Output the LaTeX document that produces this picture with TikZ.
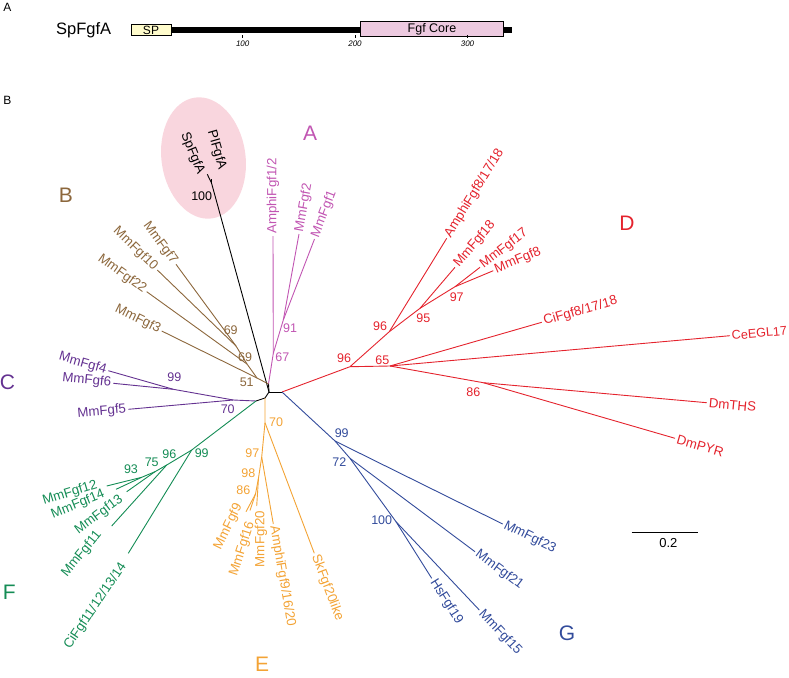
\documentclass[tikz,border=0pt]{standalone}
\usepackage{fontspec}
\setmainfont{Liberation Sans}
\usetikzlibrary{shapes.geometric}
\definecolor{cA}{RGB}{193,85,178}
\definecolor{cB}{RGB}{140,103,60}
\definecolor{cC}{RGB}{100,50,145}
\definecolor{cD}{RGB}{228,35,45}
\definecolor{cE}{RGB}{243,163,53}
\definecolor{cF}{RGB}{20,140,85}
\definecolor{cG}{RGB}{50,75,155}
\definecolor{ellpink}{RGB}{249,214,222}
\definecolor{spyellow}{RGB}{255,252,204}
\definecolor{corepink}{RGB}{237,202,224}
\begin{document}
\begin{tikzpicture}[x=1pt,y=-1pt,
  br/.style={line width=0.9pt},
  lbl/.style={font=\fontsize{13.3}{16}\selectfont, inner sep=1.8pt},
  rlbl/.style={lbl,pos=1,sloped,anchor=west,allow upside down},
  llbl/.style={lbl,pos=0,sloped,anchor=east,allow upside down},
  flbl/.style={font=\fontsize{13.3}{16}\selectfont, inner sep=0pt},
  bs/.style={font=\fontsize{12.5}{15}\selectfont, inner sep=0pt},
  clade/.style={font=\fontsize{21}{24}\selectfont, inner sep=0pt},
  panel/.style={font=\fontsize{12}{14}\selectfont, inner sep=0pt}]
\useasboundingbox (0,0) rectangle (789,677);
% ---------------- panel A
\node[panel] (pA) at (7.5,7) {A};
\node[font=\fontsize{16.5}{19}\selectfont, inner sep=0pt] (spname) at (83.7,30) {SpFgfA};
\coordinate (barL) at (171,30);
\coordinate (barR) at (511.7,30);
\draw[line width=6.3pt] (barL) -- (barR);
\node[draw, line width=0.5pt, fill=spyellow, minimum width=40pt, minimum height=11.7pt, inner sep=0pt, font=\fontsize{12}{13}\selectfont] (spbox) at (151,29.9) {SP};
\node[draw, line width=0.5pt, fill=corepink, minimum width=142.6pt, minimum height=14.3pt, inner sep=0pt, font=\fontsize{12.5}{13}\selectfont] (core) at (432,28.9) {Fgf Core};
\foreach \x/\t in {242.7/100, 355/200, 467.5/300} {
  \coordinate (tk\t a) at (\x,35.3);
  \coordinate (tk\t b) at (\x,37.8);
  \draw[line width=0.6pt] (tk\t a) -- (tk\t b);
  \node[font=\fontsize{8}{9}\selectfont\itshape, inner sep=0pt] (tn\t) at (\x,43.5) {\t};
}
% ---------------- panel B
\node[panel] (pB) at (7.5,100) {B};
\node[ellipse, fill=ellpink, minimum width=84pt, minimum height=122pt, rotate=8, inner sep=0pt] (ell) at (203.5,158) {};
% coordinates
\coordinate (C0) at (269,392);
\coordinate (CR) at (282,392);
\coordinate (C1) at (265,398);
\coordinate (C2) at (256,401);
\coordinate (Cb) at (268.5,384);
\coordinate (n100) at (211.5,183);
\coordinate (tSp) at (207.3,174.3);
\coordinate (tPl) at (211.5,178.5);
\coordinate (p67) at (273.3,353.3);
\coordinate (p91) at (283.3,320);
\coordinate (tA12) at (273,236);
\coordinate (tMm2) at (299,234);
\coordinate (tMm1) at (314.5,239);
\coordinate (b51) at (257,378);
\coordinate (b69b) at (247,364);
\coordinate (b69a) at (236,346);
\coordinate (tMm7) at (176,264.3);
\coordinate (tMm10) at (157.3,270);
\coordinate (tMm22) at (146.7,291.7);
\coordinate (tMm3) at (161.7,331);
\coordinate (c70) at (233.3,400);
\coordinate (c99) at (173.3,389.3);
\coordinate (tMm4) at (108.3,370.7);
\coordinate (tMm6) at (113.3,383.3);
\coordinate (tMm5) at (128.3,409.3);
\coordinate (d96) at (350,366.7);
\coordinate (d65) at (390,366);
\coordinate (d86) at (483.3,382.7);
\coordinate (d96b) at (389.3,331.7);
\coordinate (d95) at (420,308.3);
\coordinate (d97) at (455,286.7);
\coordinate (tAm8) at (446.7,238.3);
\coordinate (tMm18) at (455,267.3);
\coordinate (tMm17) at (480,267.3);
\coordinate (tMm8) at (493.3,270.7);
\coordinate (tCi8) at (541.7,322.3);
\coordinate (tCe) at (730,335.7);
\coordinate (tTHS) at (706.7,402.7);
\coordinate (tPYR) at (675,438.3);
\coordinate (e70) at (265,422.7);
\coordinate (e97) at (261.7,457);
\coordinate (e98) at (258.5,478);
\coordinate (e86) at (255.5,494);
\coordinate (tSk) at (314.3,553.3);
\coordinate (tAm9) at (273.3,524);
\coordinate (tMm20) at (256.7,506);
\coordinate (tMm9) at (246,511.7);
\coordinate (tMm16) at (250,510.5);
\coordinate (f99) at (191.7,450);
\coordinate (f96) at (166.7,465);
\coordinate (f75) at (155,471.7);
\coordinate (f93) at (141.7,477.3);
\coordinate (tCi11) at (128.3,553.3);
\coordinate (tMm11) at (111.7,526);
\coordinate (tMm13) at (126.7,491.7);
\coordinate (tMm12) at (106.7,486);
\coordinate (tMm14) at (116,489.3);
\coordinate (g99) at (335,441);
\coordinate (g72) at (350,458.3);
\coordinate (g100) at (396,521.7);
\coordinate (tMm23) at (502.7,524);
\coordinate (tMm21) at (475,551.7);
\coordinate (tHs19) at (431.7,578.3);
\coordinate (tMm15) at (479.3,610);
% ---------------- black centre and SpFgfA/PlFgfA
\draw[br] (C0) -- (Cb);
\draw[br] (C0) -- (CR);
\draw[br] (C0) -- (C1) -- (C2);
\draw[br] (C0) -- (n100);
\draw[br] (n100) -- (tSp);
\draw[br] (n100) -- (tPl);
\node[flbl, rotate=-68] (lSp) at (192.5,153.3) {SpFgfA};
\node[flbl, rotate=-74] (lPl) at (216.7,150) {PlFgfA};
\node[bs] (s100a) at (201.7,196) {100};
% ---------------- A (pink)
\draw[br,cA] (Cb) -- (p67) -- (p91);
\draw[br,cA] (p67) -- (tA12) node[rlbl] (lA12) {AmphiFgf1/2};
\draw[br,cA] (p91) -- (tMm2) node[rlbl] (lMm2) {MmFgf2};
\draw[br,cA] (p91) -- (tMm1) node[rlbl] (lMm1) {MmFgf1};
\node[bs,cA] (s67) at (282.3,357.3) {67};
\node[bs,cA] (s91) at (290,328.3) {91};
\node[clade,cA] (kA) at (310,133) {A};
% ---------------- B (brown)
\draw[br,cB] (Cb) -- (b51) -- (b69b) -- (b69a);
\draw[br,cB] (tMm7) -- (b69a) node[llbl] (lMm7) {MmFgf7};
\draw[br,cB] (tMm10) -- (b69a) node[llbl] (lMm10) {MmFgf10};
\draw[br,cB] (tMm22) -- (b69b) node[llbl] (lMm22) {MmFgf22};
\draw[br,cB] (tMm3) -- (b51) node[llbl] (lMm3) {MmFgf3};
\node[bs,cB] (s69a) at (230.7,330) {69};
\node[bs,cB] (s69b) at (245,357) {69};
\node[bs,cB] (s51) at (246.7,382.5) {51};
\node[clade,cB] (kB) at (66,195) {B};
% ---------------- C (purple)
\draw[br,cC] (C2) -- (c70) -- (c99);
\draw[br,cC] (tMm4) -- (c99) node[llbl] (lMm4) {MmFgf4};
\draw[br,cC] (tMm6) -- (c99) node[llbl] (lMm6) {MmFgf6};
\draw[br,cC] (tMm5) -- (c70) node[llbl] (lMm5) {MmFgf5};
\node[bs,cC] (s99c) at (174.3,376.7) {99};
\node[bs,cC] (s70c) at (227.7,409) {70};
\node[clade,cC] (kC) at (7.5,382) {C};
% ---------------- D (red)
\draw[br,cD] (CR) -- (d96) -- (d65) -- (d86);
\draw[br,cD] (d96) -- (d96b) -- (d95) -- (d97);
\draw[br,cD] (d96b) -- (tAm8) node[rlbl] (lAm8) {AmphiFgf8/17/18};
\draw[br,cD] (d95) -- (tMm18) node[rlbl] (lMm18) {MmFgf18};
\draw[br,cD] (d97) -- (tMm17) node[rlbl] (lMm17) {MmFgf17};
\draw[br,cD] (d97) -- (tMm8) node[rlbl] (lMm8) {MmFgf8};
\draw[br,cD] (d65) -- (tCi8) node[rlbl] (lCi8) {CiFgf8/17/18};
\draw[br,cD] (d65) -- (tCe) node[rlbl, font=\fontsize{12.6}{15}\selectfont, inner sep=1.4pt] (lCe) {CeEGL17};
\draw[br,cD] (d86) -- (tTHS) node[rlbl] (lTHS) {DmTHS};
\draw[br,cD] (d86) -- (tPYR) node[rlbl] (lPYR) {DmPYR};
\node[bs,cD] (s96d) at (344,358.3) {96};
\node[bs,cD] (s96e) at (380,325.7) {96};
\node[bs,cD] (s95) at (423.3,318.3) {95};
\node[bs,cD] (s97d) at (456.7,296.7) {97};
\node[bs,cD] (s65) at (382.3,360) {65};
\node[bs,cD] (s86d) at (473.3,391.7) {86};
\node[clade,cD] (kD) at (627,223) {D};
% ---------------- E (orange)
\draw[br,cE] (C1) -- (e70) -- (e97) -- (e98) -- (e86);
\draw[br,cE] (e70) -- (tSk) node[rlbl] (lSk) {SkFgf20like};
\draw[br,cE] (e97) -- (tAm9) node[rlbl] (lAm9) {AmphiFgf9/16/20};
\draw[br,cE] (tMm20) -- (e98);
\draw[br,cE] (tMm9) -- (e86);
\draw[br,cE] (tMm16) -- (e86);
\node[flbl,cE,rotate=64] (lMm9) at (228.3,526.7) {MmFgf9};
\node[flbl,cE,rotate=72] (lMm16) at (242.3,549) {MmFgf16};
\node[flbl,cE,rotate=90] (lMm20) at (261,539) {MmFgf20};
\node[bs,cE] (s70e) at (276,421.7) {70};
\node[bs,cE] (s97e) at (252.3,452.7) {97};
\node[bs,cE] (s98e) at (248.3,473.3) {98};
\node[bs,cE] (s86e) at (243.3,490) {86};
\node[clade,cE] (kE) at (262,664) {E};
% ---------------- F (green)
\draw[br,cF] (C2) -- (f99) -- (f96) -- (f75) -- (f93);
\draw[br,cF] (tCi11) -- (f99);
\draw[br,cF] (tMm11) -- (f96);
\draw[br,cF] (tMm13) -- (f75);
\draw[br,cF] (tMm12) -- (f93);
\draw[br,cF] (tMm14) -- (f93);
\node[flbl,cF,rotate=56] (lCi11) at (95.5,606) {CiFgf11/12/13/14};
\node[flbl,cF,rotate=51] (lMm11) at (81.7,554) {MmFgf11};
\node[flbl,cF,rotate=37] (lMm13) at (99,515) {MmFgf13};
\node[flbl,cF,rotate=17] (lMm12) at (70,493) {MmFgf12};
\node[flbl,cF,rotate=22] (lMm14) at (78,504.5) {MmFgf14};
\node[bs,cF] (s99f) at (201.7,453.3) {99};
\node[bs,cF] (s96f) at (169.3,454) {96};
\node[bs,cF] (s75f) at (151.7,462.7) {75};
\node[bs,cF] (s93f) at (131,469.3) {93};
\node[clade,cF] (kF) at (9.3,592) {F};
% ---------------- G (blue)
\draw[br,cG] (CR) -- (g99) -- (g72) -- (g100);
\draw[br,cG] (g99) -- (tMm23) node[rlbl] (lMm23) {MmFgf23};
\draw[br,cG] (g72) -- (tMm21) node[rlbl] (lMm21) {MmFgf21};
\draw[br,cG] (g100) -- (tHs19) node[rlbl] (lHs19) {HsFgf19};
\draw[br,cG] (g100) -- (tMm15) node[rlbl] (lMm15) {MmFgf15};
\node[bs,cG] (s99g) at (341.7,433.3) {99};
\node[bs,cG] (s72g) at (339.3,461.7) {72};
\node[bs,cG] (s100g) at (381.7,520) {100};
\node[clade,cG] (kG) at (567,633) {G};
% ---------------- scale bar
\coordinate (sbL) at (631.7,532.7);
\coordinate (sbR) at (698.3,532.7);
\draw[line width=1.2pt] (sbL) -- (sbR);
\node[font=\fontsize{13}{15}\selectfont, inner sep=0pt] (sbt) at (668.3,543.5) {0.2};
\end{tikzpicture}
\end{document}
